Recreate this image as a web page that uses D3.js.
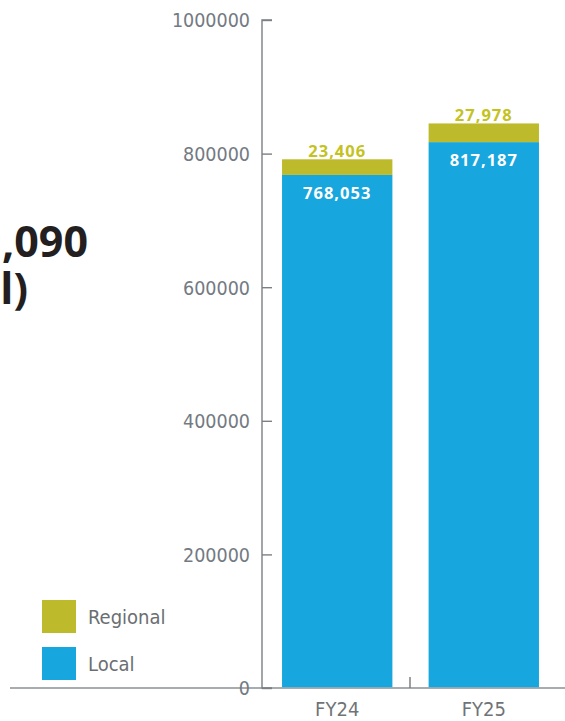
<!DOCTYPE html>
<html><head><meta charset="utf-8">
<script src="https://cdn.jsdelivr.net/npm/d3@7/dist/d3.min.js"></script>
<style>body{margin:0;background:#fff}svg{display:block}</style>
</head><body><svg id="c" width="565" height="721"></svg>
<script>
const categories = ["FY24", "FY25"];
const localValues = [768053, 817187];
const regionalValues = [23406, 27978];
const tickValues = [0, 200000, 400000, 600000, 800000, 1000000];
const seriesNames = ["Regional", "Local"];
const headlineFragments = [",090", "l)"];
const colors = {Regional: "#bdbb2b", Local: "#18a6de"};

const svg = d3.select("#c");
const y = d3.scaleLinear().domain([0, 1000000]).range([688, 20]);
const x = d3.scaleBand().domain(categories).range([264, 557]).paddingInner(0.247).paddingOuter(0.123);

// headline fragments (cut by the page edge in the original)
svg.append("text").attr("x", 88).attr("y", 257).attr("text-anchor", "end")
  .style("font-family", "Open Sans, sans-serif").style("font-weight", 700).style("font-size", "43px")
  .attr("fill", "#231f20").text(headlineFragments[0]);
svg.append("text").attr("x", 28).attr("y", 304).attr("text-anchor", "end")
  .style("font-family", "Open Sans, sans-serif").style("font-weight", 700).style("font-size", "43px")
  .attr("fill", "#231f20").text(headlineFragments[1]);

// baseline
svg.append("line").attr("x1", 10).attr("x2", 565).attr("y1", y(0)).attr("y2", y(0))
  .attr("stroke", "#8a9096").attr("stroke-width", 1.6);
svg.append("line").attr("x1", 410).attr("x2", 410).attr("y1", y(0) - 11).attr("y2", y(0))
  .attr("stroke", "#777").attr("stroke-width", 1.4);

// y axis (ticks inward)
const axis = d3.axisRight(y).tickValues(tickValues).tickSize(10).tickFormat(d3.format("d"));
const ag = svg.append("g").attr("transform", "translate(262,0)").call(axis);
ag.select(".domain").attr("stroke", "#7b8085").attr("stroke-width", 1.4).attr("d", `M10,${y(1000000)}H0V${y(0)}H10`);
ag.selectAll(".tick line").attr("stroke", "#7b8085").attr("stroke-width", 1.4);
ag.selectAll(".tick text").attr("x", -12).attr("text-anchor", "end").attr("dy", "0.35em")
  .style("font-family", "'Liberation Sans Narrow', 'DejaVu Sans Condensed', sans-serif")
  .style("font-size", "19.5px").attr("fill", "#737a82");

// bars
const data = categories.map((c, i) => ({c, local: localValues[i], regional: regionalValues[i]}));
const g = svg.append("g");
g.selectAll("rect.local").data(data).join("rect").attr("class", "local")
  .attr("x", d => x(d.c)).attr("width", x.bandwidth())
  .attr("y", d => y(d.local)).attr("height", d => y(0) - y(d.local) - 0.8)
  .attr("fill", colors.Local);
g.selectAll("rect.reg").data(data).join("rect").attr("class", "reg")
  .attr("x", d => x(d.c)).attr("width", x.bandwidth())
  .attr("y", d => y(d.local + d.regional)).attr("height", d => y(d.local) - y(d.local + d.regional))
  .attr("fill", colors.Regional);

const fmt = d3.format(",");
g.selectAll("text.rl").data(data).join("text").attr("class", "rl")
  .attr("x", d => x(d.c) + x.bandwidth() / 2).attr("y", d => y(d.local + d.regional) - 2)
  .attr("text-anchor", "middle").style("font-family", "Open Sans, sans-serif").style("font-weight", 700)
  .style("font-size", "16.5px").style("letter-spacing", "1px").attr("fill", "#c4c21f").text(d => fmt(d.regional));
g.selectAll("text.ll").data(data).join("text").attr("class", "ll")
  .attr("x", d => x(d.c) + x.bandwidth() / 2).attr("y", d => y(d.local) + 24)
  .attr("text-anchor", "middle").style("font-family", "Open Sans, sans-serif").style("font-weight", 700)
  .style("font-size", "16.5px").style("letter-spacing", "1px").attr("fill", "#ffffff").text(d => fmt(d.local));

// category labels
g.selectAll("text.cat").data(categories).join("text").attr("class", "cat")
  .attr("x", d => x(d) + x.bandwidth() / 2).attr("y", 716).attr("text-anchor", "middle")
  .style("font-family", "'Liberation Sans Narrow', 'DejaVu Sans Condensed', sans-serif")
  .style("font-size", "20px").attr("fill", "#6f7378").text(d => d);

// legend
const lg = svg.append("g").selectAll("g").data(seriesNames).join("g")
  .attr("transform", (d, i) => `translate(42,${600 + i * 47})`);
lg.append("rect").attr("width", 34).attr("height", 33).attr("fill", d => colors[d]);
lg.append("text").attr("x", 46).attr("y", 17).attr("dy", "0.35em")
  .style("font-family", "'Liberation Sans Narrow', 'DejaVu Sans Condensed', sans-serif")
  .style("font-size", "20px").attr("fill", "#6a6e72").text(d => d);
</script></body></html>
